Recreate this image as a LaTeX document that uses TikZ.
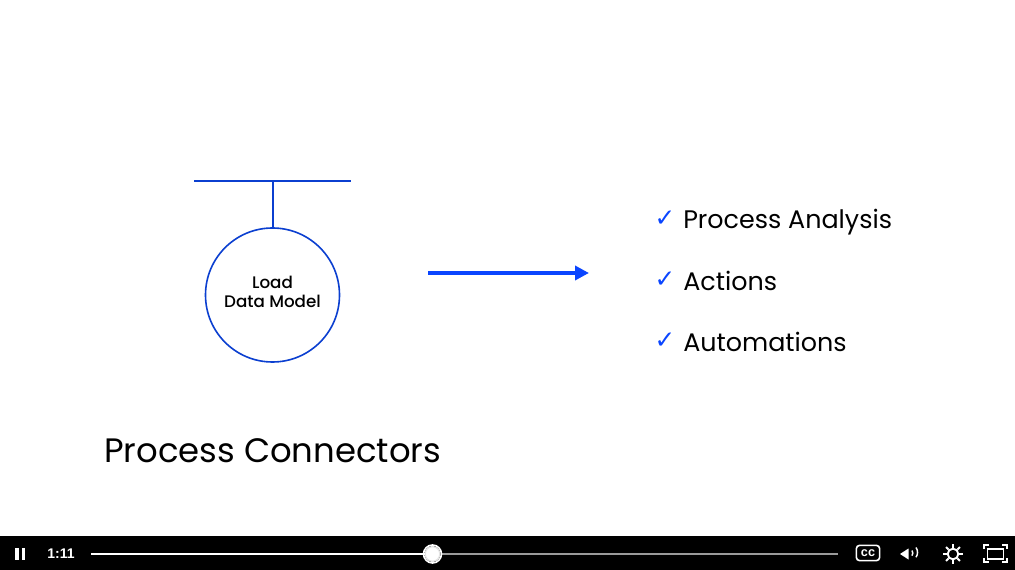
\documentclass[tikz,border=0pt]{standalone}
\usepackage{fontspec}
\usepackage{xcolor}
\setmainfont{Poppins}
\newfontfamily\symfont{DejaVu Sans}
\newfontfamily\barfont{Liberation Sans}
\newfontfamily\medfont{Poppins Medium}
\definecolor{lineblue}{HTML}{0B3FD0}
\definecolor{arrowblue}{HTML}{0A45FF}
\definecolor{trackgrey}{HTML}{9A9A9A}
\usetikzlibrary{arrows.meta}

\begin{document}
\begin{tikzpicture}[x=0.75pt,y=-0.75pt,
    base/.style={draw=lineblue, circle, line width=1.2pt, minimum size=100.5pt, inner sep=0pt, align=center, font=\medfont\fontsize{12.55pt}{14.5pt}\selectfont},
    item/.style={anchor=base west, inner sep=0pt, font=\fontsize{19.05pt}{22pt}\selectfont},
    tick/.style={anchor=base, inner sep=0pt, text=arrowblue, font=\symfont\fontsize{18.5pt}{18.5pt}\selectfont},
    icon/.style={draw=white, line width=1.1pt, fill=none},
    solid icon/.style={fill=white, draw=none}]

    \useasboundingbox[fill=white] (0,0) rectangle (1015,570);

    \coordinate (barL) at (194,181);
    \coordinate (barR) at (351,181);
    \coordinate (barM) at (272.5,181);

    \node[base] (load) at (272.5,295)
    { Load \\ Data Model\rule[-4.5pt]{0pt}{4.5pt} };

    \draw[lineblue, line width=1.3pt] (barL) -- (barR);
    \draw[lineblue, line width=1.5pt] (barM) -- (load);

    %------------------------------------------------

    \coordinate (arrowL) at (428,273);
    \coordinate (arrowR) at (589,273);
    \draw[arrowblue, line width=3.4pt, -{Triangle[length=10.5pt,width=10.5pt]}] (arrowL) -- (arrowR);

    %------------------------------------------------

    \node[tick] (tick1) at (665,227) { ✓ };
    \node[tick] (tick2) at (665,288) { ✓ };
    \node[tick] (tick3) at (665,349) { ✓ };

    \node[item] (analysis) at (683,229) { Process Analysis };
    \node[item] (actions) at (683,290.5) { Actions };
    \node[item] (automations) at (683,351.5) { Automations };

    \node[anchor=base west, inner sep=0pt, font=\fontsize{25.4pt}{30pt}\selectfont] (title) at (104,462.5)
    { Process Connectors };

    %------------------------------------------------

    \fill[black] (0,536) rectangle (1015,570);

    \fill[solid icon] (15,548) rectangle (18.5,560);
    \fill[solid icon] (21.5,548) rectangle (25,560);

    \node[text=white, inner sep=0pt, font=\barfont\bfseries\fontsize{10.5pt}{10.5pt}\selectfont] (time) at (61,554) { 1:11 };

    \coordinate (trackL) at (91,554);
    \coordinate (trackR) at (838,554);
    \node[circle, fill=white, draw=black!10, line width=1pt, minimum size=11pt, inner sep=0pt] (knob) at (432.5,554) {};
    \draw[trackgrey, line width=1.5pt] (knob) -- (trackR);
    \draw[white, line width=1.8pt] (trackL) -- (knob);
    \draw[white, line width=1.2pt] (432.5,554) circle (9);

    \node[draw=white, line width=1.2pt, rounded corners=2.5pt, minimum width=17.5pt, minimum height=11.5pt, inner sep=0pt, text=white, font=\barfont\bfseries\fontsize{9.5pt}{9.5pt}\selectfont] (cc) at (868,553) { cc };

    % speaker
    \fill[solid icon] (900,554) -- (908.5,548.5) -- (908.5,559.5) -- cycle;
    \draw[icon] (912,550.5) arc (-35:35:4.5);
    \draw[icon] (916,547.5) arc (-35:35:8.5);

    % gear
    \node[draw=white, circle, line width=1.4pt, minimum size=8pt, inner sep=0pt] (gear) at (953,554) {};
    \foreach \ang in {0,45,...,315}
        \draw[white, line width=1.5pt] (gear.\ang) -- ++(-\ang:3.5);

    % fullscreen
    \node[icon, draw, line width=1.4pt, minimum width=12pt, minimum height=7pt, inner sep=0pt] (screen) at (995.5,554) {};
    \draw[icon] (984,549) -- (984,545) -- (989,545);
    \draw[icon] (1002,545) -- (1007,545) -- (1007,549);
    \draw[icon] (984,558) -- (984,562) -- (989,562);
    \draw[icon] (1002,562) -- (1007,562) -- (1007,558);
\end{tikzpicture}
\end{document}
